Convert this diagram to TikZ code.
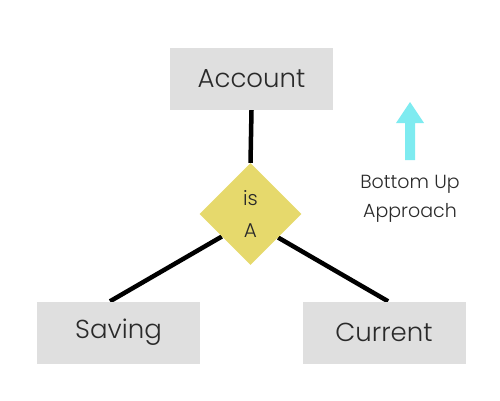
\documentclass[tikz,border=0pt]{standalone}
\usepackage{fontspec}
\IfFontExistsTF{Poppins Light}{\setmainfont{Poppins Light}}{\IfFontExistsTF{Lato Light}{\setmainfont{Lato Light}}{\setmainfont{Poppins}}}
\usetikzlibrary{shapes.geometric,calc,backgrounds}
\definecolor{boxgray}{HTML}{DFDFDF}
\definecolor{dyellow}{HTML}{E6D96C}
\definecolor{txt}{HTML}{2A2A2A}
\definecolor{acyan}{HTML}{7EEBF0}
\tikzset{
  entity/.style={fill=boxgray, draw=none, minimum width=163pt, minimum height=62pt, inner sep=0pt, text=txt, font=\fontsize{26}{30}\selectfont},
  rel/.style={diamond, fill=dyellow, draw=none, minimum width=102pt, minimum height=102pt, inner sep=0pt, text=txt, align=center, font=\fontsize{20}{32}\selectfont},
  link/.style={line width=4.5pt, draw=black},
  note/.style={text=txt, align=center, font=\fontsize{19}{29}\selectfont},
}
\begin{document}
\begin{tikzpicture}[x=1pt,y=1pt]
\useasboundingbox (0,0) rectangle (500,400);
\node[entity] (acc) at (251.5,321) {Account};
\node[entity] (sav) at (118.5,67.5) {Saving};
\node[entity] (cur) at (384,67.5) {Current};
\coordinate (s1) at ($(sav.north west)!0.448!(sav.north east)$);
\coordinate (c1) at ($(cur.north west)!0.525!(cur.north east)$);
\node[rel] (isa) at (250.5,186) {is\\A};
\begin{scope}[on background layer]
\draw[link] (acc.south) -- (isa.north);
\draw[link] ($(isa.west)!0.44!(isa.south)$) -- (s1);
\draw[link] ($(isa.east)!0.46!(isa.south)$) -- (c1);
\end{scope}
\fill[acyan] (405,240) -- (415,240) -- (415,277) -- (424,277) -- (410,298) -- (396,277) -- (405,277) -- cycle;
\node[note] (bu) at (410,201) {Bottom Up\\Approach};
\end{tikzpicture}
\end{document}
